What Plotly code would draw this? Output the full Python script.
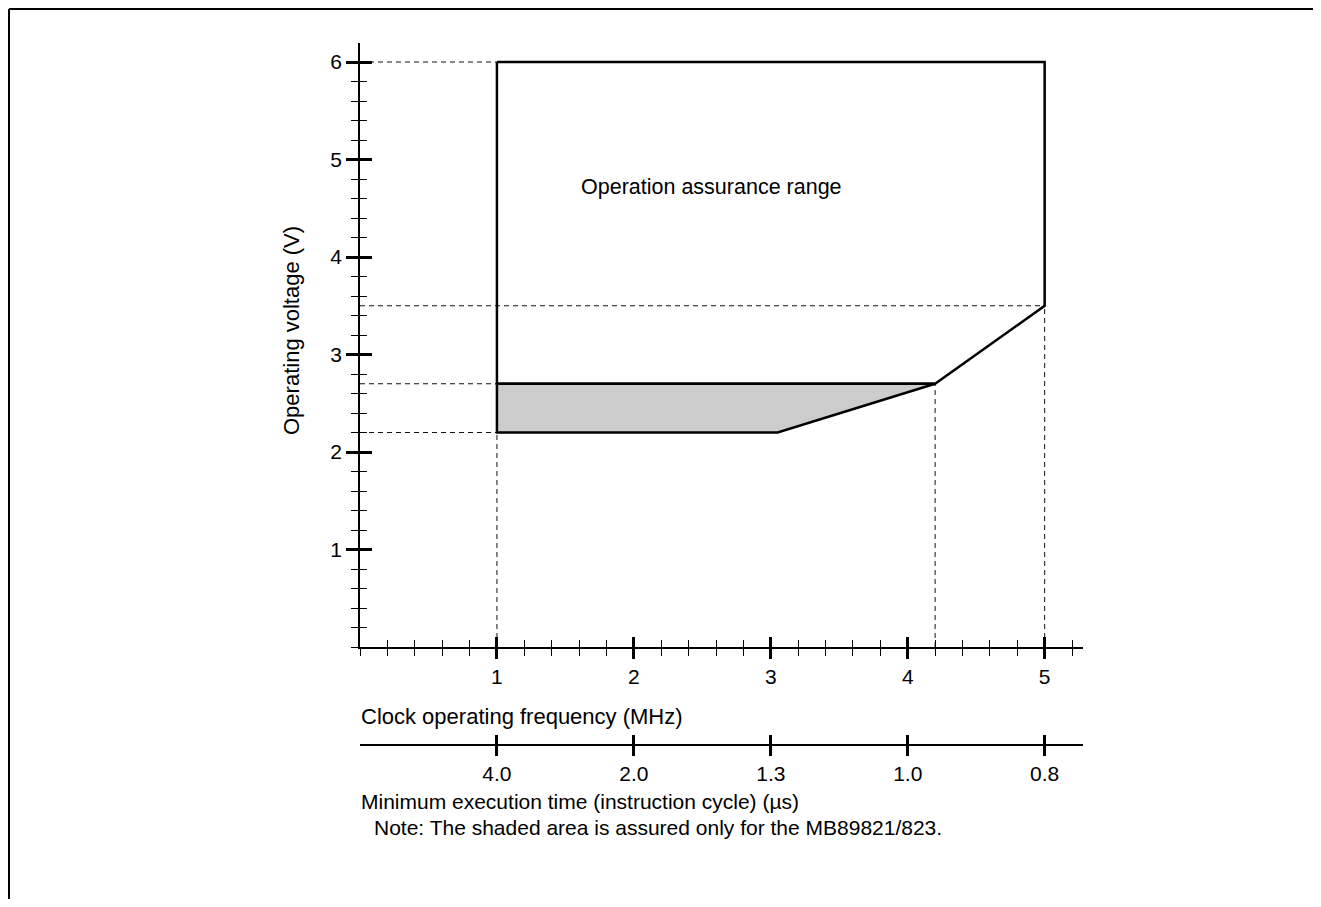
import plotly.graph_objects as go

# ---- data ----
freq_ticks = [1, 2, 3, 4, 5]
freq_labels = ["1", "2", "3", "4", "5"]
exec_labels = ["4.0", "2.0", "1.3", "1.0", "0.8"]
volt_ticks = [1, 2, 3, 4, 5, 6]
volt_labels = ["1", "2", "3", "4", "5", "6"]

boundary_freq = [1, 5, 5, 4.2, 1, 1]
boundary_volt = [6, 6, 3.5, 2.7, 2.7, 6]

shaded_freq = [1, 4.2, 3.05, 1, 1]
shaded_volt = [2.7, 2.7, 2.2, 2.2, 2.7]

hguide_volt = [6, 3.5, 2.7, 2.2]
hguide_freq = [1, 5, 1, 1]
vguide_freq = [1, 4.2, 5]
vguide_volt = [2.2, 2.7, 3.5]

X_MAX = 5.28
Y_MAX = 6.195
FONT = "Liberation Sans, Arial, sans-serif"
FS = 21

# page offset (browser body margin)
OFF = 8
W, H = 1321 - 2 * OFF, 907 - 2 * OFF
L, T = 360 - OFF, 43 - OFF
PW, PH = 723, 757
R = W - L - PW
B = H - T - PH


def px_x(p):
    return (p - 360) / PW


def px_y(p):
    return (800 - p) / PH


fig = go.Figure()

# dashed guide lines
gx, gy = [], []
for v, f in zip(hguide_volt, hguide_freq):
    gx += [0, f, None]
    gy += [v, v, None]
for f, v in zip(vguide_freq, vguide_volt):
    gx += [f, f, None]
    gy += [0, v, None]
fig.add_trace(go.Scatter(x=gx, y=gy, mode="lines", line=dict(color="#111", width=1, dash="5px,4px"),
                         hoverinfo="skip", showlegend=False))

# shaded area
fig.add_trace(go.Scatter(x=shaded_freq, y=shaded_volt, mode="lines", fill="toself",
                         fillcolor="#cccccc", line=dict(color="black", width=2.5),
                         hoverinfo="skip", showlegend=False))
# boundary
fig.add_trace(go.Scatter(x=boundary_freq, y=boundary_volt, mode="lines",
                         line=dict(color="black", width=2.5), hoverinfo="skip", showlegend=False))

# dummy traces to attach overlay axes
for xa, ya in [("x2", "y"), ("x3", "y"), ("x4", "y"), ("x", "y2")]:
    fig.add_trace(go.Scatter(x=[None], y=[None], xaxis=xa, yaxis=ya, showlegend=False, hoverinfo="skip"))

ydom = [px_y(647), 1]
pos2 = px_y(745)
minor_x = dict(tickmode="linear", tick0=0, dtick=0.2, ticklen=7, tickwidth=1.2, tickcolor="black")
minor_y = dict(tickmode="linear", tick0=0, dtick=0.2, ticklen=7, tickwidth=1.2, tickcolor="black")

common_x = dict(range=[0, X_MAX], showgrid=False, zeroline=False, tickmode="array",
                tickvals=freq_ticks, tickcolor="black", tickwidth=2.5, ticklen=10,
                tickfont=dict(family=FONT, size=FS, color="black"))

fig.update_layout(
    width=W, height=H,
    margin=dict(l=L, r=R, t=T, b=B, pad=0),
    plot_bgcolor="white", paper_bgcolor="white",
    font=dict(family=FONT, size=FS, color="black"),
    xaxis=dict(**common_x, ticktext=freq_labels, ticks="outside", showline=True, linecolor="black",
               linewidth=1.5, anchor="y", minor=dict(**minor_x, ticks="outside"), ticklabelstandoff=0),
    xaxis3=dict(**common_x, overlaying="x", anchor="y", ticks="inside", showticklabels=False,
                showline=False, minor=dict(**minor_x, ticks="inside")),
    xaxis2=dict(**common_x, ticktext=exec_labels, overlaying="x", anchor="free", position=pos2,
                ticks="outside", showline=True, linecolor="black", linewidth=1.5, ticklabelstandoff=0),
    xaxis4=dict(**common_x, overlaying="x", anchor="free", position=pos2, ticks="inside",
                showticklabels=False, showline=False),
    yaxis=dict(domain=ydom, range=[0, Y_MAX], showgrid=False, zeroline=False, tickmode="array",
               tickvals=volt_ticks, ticktext=volt_labels, ticks="outside", ticklen=12, tickwidth=2.5,
               tickcolor="black", showline=True, linecolor="black", linewidth=1.5, anchor="x",
               minor=dict(**minor_y, ticks="outside"),
               tickfont=dict(family=FONT, size=FS, color="black")),
    yaxis2=dict(domain=ydom, range=[0, Y_MAX], overlaying="y", side="left", anchor="x",
                showgrid=False, zeroline=False, tickmode="array", tickvals=volt_ticks,
                ticks="inside", ticklen=12, tickwidth=2.5, tickcolor="black", showticklabels=False,
                showline=False, minor=dict(**minor_y, ticks="inside")),
    showlegend=False,
)

# frame border (top and left edges of the page frame)
fig.add_shape(type="line", xref="paper", yref="paper", x0=px_x(9), x1=px_x(1400), y0=px_y(9), y1=px_y(9),
              line=dict(color="black", width=2))
fig.add_shape(type="line", xref="paper", yref="paper", x0=px_x(9), x1=px_x(9), y0=px_y(9), y1=px_y(1000),
              line=dict(color="black", width=2))


def ann(text, x, y, size, xref="paper", yref="paper", xanchor="left", angle=0):
    fig.add_annotation(text=text, x=x, y=y, xref=xref, yref=yref, xanchor=xanchor, yanchor="middle",
                       showarrow=False, textangle=angle, font=dict(family=FONT, size=size, color="black"))


ann("Operation assurance range", 1.6, 4.72, 21.5, xref="x", yref="y")
ann("Clock operating frequency (MHz)", px_x(359), px_y(716), 22)
ann("Minimum execution time (instruction cycle) (µs)", px_x(359), px_y(801), 21)
ann("Note: The shaded area is assured only for the MB89821/823.", px_x(372), px_y(827), 21)
ann("Operating voltage (V)", px_x(291), px_y(331), 22, xanchor="center", angle=-90)

fig.write_html("out.html")
